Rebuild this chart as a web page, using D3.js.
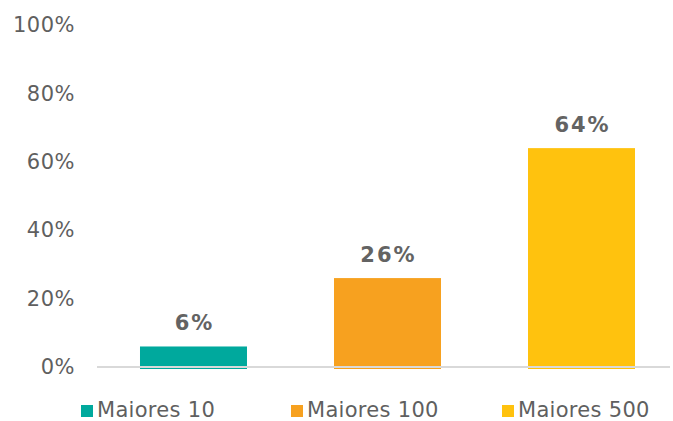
<!DOCTYPE html>
<html><head><meta charset="utf-8">
<script src="https://cdn.jsdelivr.net/npm/d3@7"></script>
<style>body{margin:0;background:#fff}svg{display:block}</style>
</head><body>
<svg id="c" width="673" height="421"></svg>
<script>
const categories = ["Maiores 10", "Maiores 100", "Maiores 500"];
const values = [6, 26, 64];
const colors = ["#00A99D", "#F7A11F", "#FFC20E"];
const yTicks = [0, 20, 40, 60, 80, 100];

const svg = d3.select("#c");
const font = "'DejaVu Sans', Verdana, sans-serif";
const x = d3.scaleBand().domain(categories).range([97, 678]).paddingInner(0.4485).paddingOuter(0.2216);
const y = d3.scaleLinear().domain([0, 100]).range([367, 25]);

const yAxis = d3.axisLeft(y).tickValues(yTicks).tickFormat(d => d + "%").tickSize(0).tickPadding(22);
const gy = svg.append("g").attr("transform", "translate(97,0)").call(yAxis);
gy.select(".domain").remove();
gy.selectAll("text").attr("font-family", font).attr("font-size", 21).attr("fill", "#5f5f5f")
  .attr("letter-spacing", 0.5);

svg.selectAll("rect.bar").data(values).join("rect").attr("class", "bar")
  .attr("x", (d, i) => x(categories[i]))
  .attr("width", x.bandwidth())
  .attr("y", d => y(d))
  .attr("height", d => y(0) - y(d) + 2)
  .attr("fill", (d, i) => colors[i]);

svg.append("line").attr("x1", 97).attr("x2", 670).attr("y1", y(0)).attr("y2", y(0))
  .attr("stroke", "#d9d9d9").attr("stroke-width", 2);

svg.selectAll("text.lbl").data(values).join("text").attr("class", "lbl")
  .attr("x", (d, i) => x(categories[i]) + x.bandwidth() / 2 + 1)
  .attr("y", d => y(d) - 16)
  .attr("text-anchor", "middle")
  .attr("font-family", font).attr("font-weight", "bold").attr("font-size", 21)
  .attr("letter-spacing", 2)
  .attr("fill", "#636363")
  .text(d => d + "%");

const legX = [81, 291, 502];
const lg = svg.selectAll("g.leg").data(categories).join("g").attr("class", "leg")
  .attr("transform", (d, i) => `translate(${legX[i]},405)`);
lg.append("rect").attr("width", 12).attr("height", 12).attr("fill", (d, i) => colors[i]);
lg.append("text").attr("x", 16).attr("y", 12).attr("font-family", font).attr("font-size", 21)
  .attr("letter-spacing", 0.3)
  .attr("fill", "#5f5f5f").text(d => d);
</script>
</body></html>
